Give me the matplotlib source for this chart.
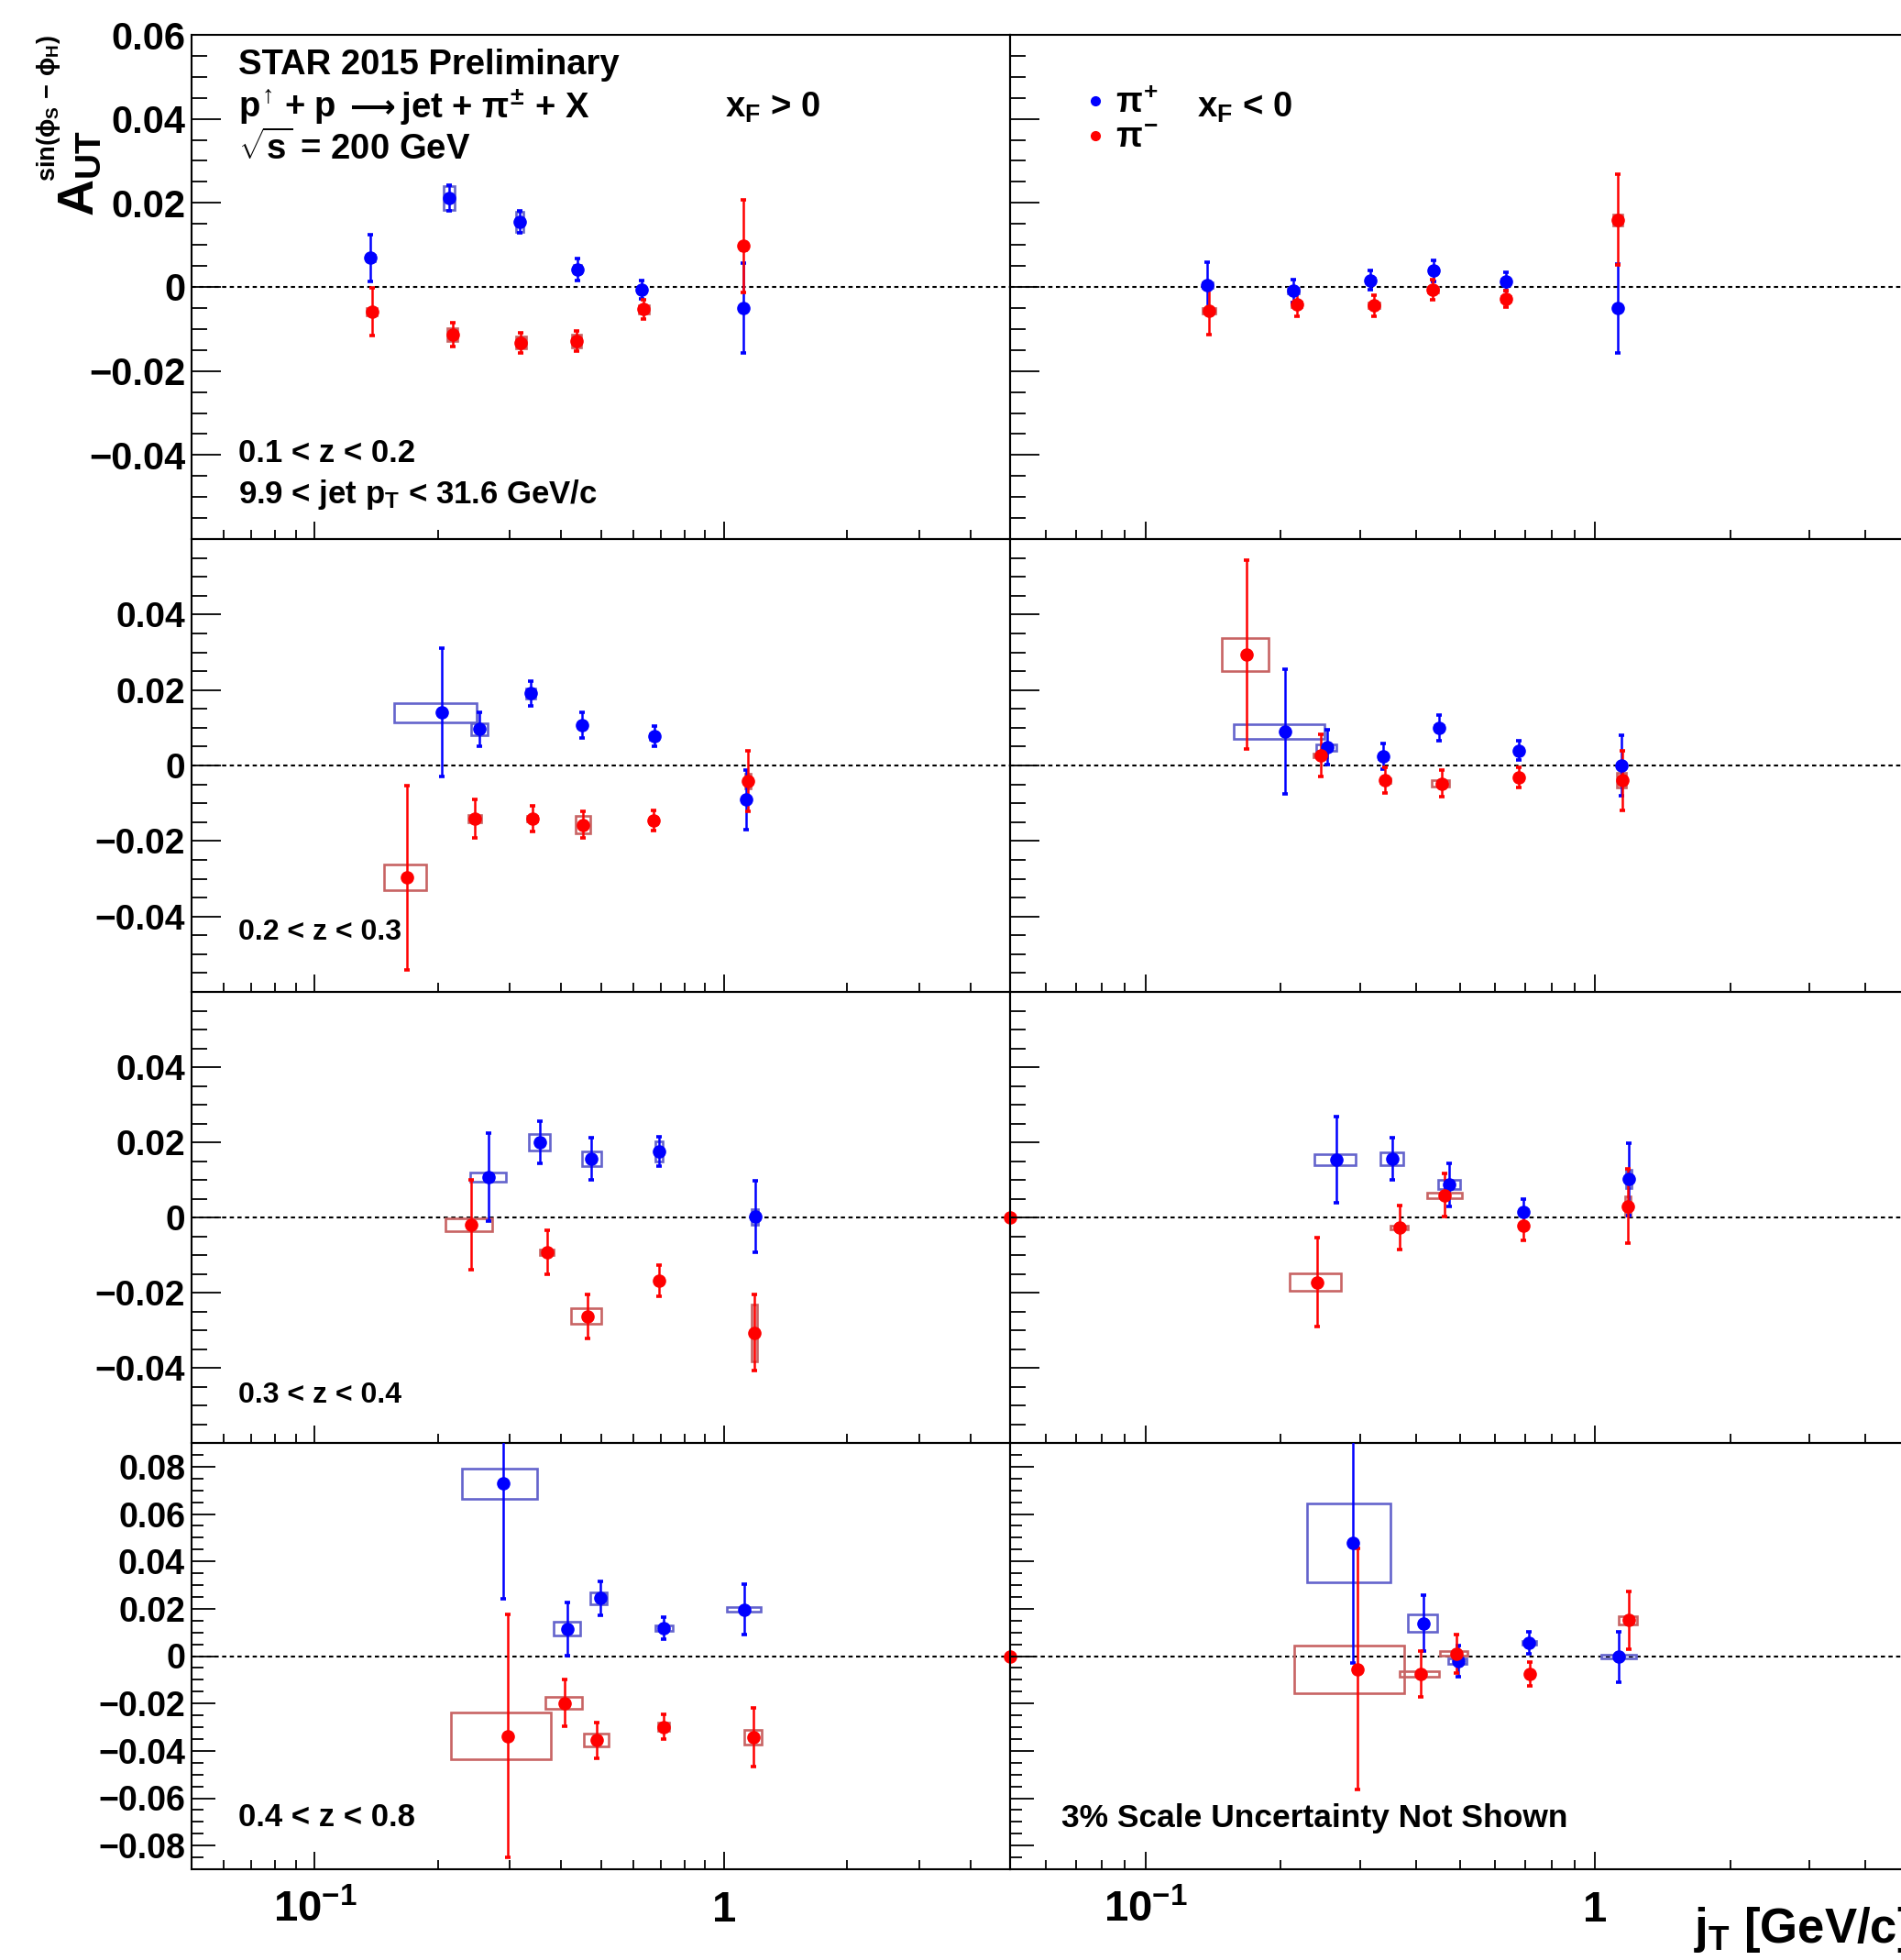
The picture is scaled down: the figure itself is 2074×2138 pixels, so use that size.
import matplotlib
matplotlib.use('Agg')
import matplotlib.pyplot as plt
from matplotlib.patches import Rectangle
from matplotlib.lines import Line2D
from matplotlib.ticker import FixedLocator, MultipleLocator, LogLocator, NullFormatter, FuncFormatter

plt.rcParams['font.family'] = ['Liberation Sans', 'DejaVu Sans']
plt.rcParams['font.weight'] = 'bold'
plt.rcParams['mathtext.fontset'] = 'custom'
for k in ('rm', 'it', 'bf', 'sf'):
    plt.rcParams['mathtext.' + k] = 'Liberation Sans:bold'

# panels are ordered row by row: (z bin, xF>0), (z bin, xF<0)
z_bins = ['0.1 < z < 0.2', '0.2 < z < 0.3', '0.3 < z < 0.4', '0.4 < z < 0.8']
y_ranges = [(-0.06, 0.06), (-0.06, 0.06), (-0.06, 0.06), (-0.09, 0.09)]
y_labels = [[-0.04, -0.02, 0, 0.02, 0.04, 0.06],
            [-0.04, -0.02, 0, 0.02, 0.04],
            [-0.04, -0.02, 0, 0.02, 0.04],
            [-0.08, -0.06, -0.04, -0.02, 0, 0.02, 0.04, 0.06, 0.08]]

# pi+ : jT, asymmetry, stat. error, sys. box (jT low, jT high, half height)
pip_jt = [[0.137, 0.213, 0.317, 0.439, 0.63, 1.114],
          [0.1375, 0.213, 0.317, 0.437, 0.634, 1.124],
          [0.204, 0.253, 0.337, 0.45, 0.677, 1.135],
          [0.204, 0.254, 0.338, 0.45, 0.676, 1.144],
          [0.266, 0.3556, 0.473, 0.694, 1.19],
          [0.2656, 0.354, 0.473, 0.694, 1.188],
          [0.2893, 0.414, 0.498, 0.712, 1.122],
          [0.2897, 0.416, 0.4958, 0.713, 1.131]]
pip_a = [[0.0069, 0.0212, 0.0155, 0.0042, -0.0007, -0.0051],
         [0.0004, -0.0009, 0.0016, 0.0039, 0.0013, -0.0051],
         [0.014, 0.0096, 0.0191, 0.0107, 0.0077, -0.0091],
         [0.009, 0.0048, 0.0024, 0.01, 0.004, 0.0],
         [0.0107, 0.02, 0.0156, 0.0176, 0.0002],
         [0.0154, 0.0156, 0.0087, 0.0015, 0.0102],
         [0.0728, 0.0115, 0.0244, 0.0118, 0.0197],
         [0.0479, 0.0139, -0.0022, 0.0057, -0.0003]]
pip_err = [[0.0055, 0.003, 0.0026, 0.0026, 0.0022, 0.0107],
           [0.0056, 0.0027, 0.0023, 0.0025, 0.0022, 0.0106],
           [0.017, 0.0044, 0.0033, 0.0034, 0.0027, 0.0078],
           [0.0166, 0.0046, 0.0034, 0.0034, 0.0026, 0.0079],
           [0.0117, 0.0056, 0.0057, 0.0039, 0.0095],
           [0.0115, 0.0055, 0.0057, 0.0034, 0.0096],
           [0.0487, 0.0113, 0.007, 0.0047, 0.0106],
           [0.0507, 0.0119, 0.0067, 0.0046, 0.0106]]
pip_sys_lo = [[0.134, 0.2065, 0.31, 0.43, 0.62, 1.10],
              [0.134, 0.207, 0.31, 0.43, 0.62, 1.11],
              [0.1566, 0.2415, 0.328, 0.44, 0.66, 1.12],
              [0.157, 0.24, 0.33, 0.44, 0.665, 1.13],
              [0.24, 0.3344, 0.45, 0.68, 1.17],
              [0.238, 0.3335, 0.447, 0.68, 1.17],
              [0.2288, 0.3824, 0.4717, 0.68, 1.018],
              [0.2293, 0.3836, 0.4726, 0.69, 1.033]]
pip_sys_hi = [[0.140, 0.2195, 0.324, 0.448, 0.64, 1.13],
              [0.141, 0.219, 0.324, 0.445, 0.645, 1.14],
              [0.249, 0.264, 0.346, 0.46, 0.69, 1.15],
              [0.25, 0.2655, 0.346, 0.46, 0.69, 1.16],
              [0.2925, 0.3755, 0.5, 0.71, 1.21],
              [0.294, 0.3746, 0.502, 0.71, 1.205],
              [0.349, 0.445, 0.518, 0.75, 1.229],
              [0.3513, 0.4462, 0.5186, 0.74, 1.234]]
pip_sys_h = [[0.0008, 0.0028, 0.0024, 0.001, 0.0008, 0.0008],
             [0.0006, 0.0006, 0.0006, 0.0006, 0.0006, 0.0006],
             [0.0026, 0.0016, 0.0013, 0.0008, 0.0008, 0.0008],
             [0.002, 0.0008, 0.0006, 0.0006, 0.0006, 0.0006],
             [0.0012, 0.0022, 0.002, 0.0026, 0.0021],
             [0.0014, 0.0016, 0.0012, 0.0006, 0.0024],
             [0.0065, 0.0029, 0.0025, 0.0012, 0.0009],
             [0.0167, 0.0037, 0.0011, 0.0008, 0.0008]]

# pi- : jT, asymmetry, stat. error, sys. box (jT low, jT high, half height)
pim_jt = [[0.138, 0.217, 0.319, 0.436, 0.637, 1.114],
          [0.1385, 0.217, 0.322, 0.436, 0.634, 1.124],
          [0.1676, 0.246, 0.34, 0.452, 0.673, 1.142],
          [0.168, 0.245, 0.341, 0.456, 0.676, 1.15],
          [0.2416, 0.369, 0.463, 0.694, 1.185],
          [0.2404, 0.367, 0.4637, 0.694, 1.181],
          [0.2969, 0.408, 0.489, 0.712, 1.181],
          [0.2957, 0.41, 0.4915, 0.716, 1.188]]
pim_a = [[-0.0059, -0.0113, -0.0132, -0.0128, -0.0053, 0.0098],
         [-0.0057, -0.0041, -0.0044, -0.0007, -0.0028, 0.016],
         [-0.0297, -0.0141, -0.0141, -0.0157, -0.0146, -0.0041],
         [0.0294, 0.0027, -0.0039, -0.0048, -0.0031, -0.0039],
         [-0.0019, -0.0093, -0.0263, -0.0168, -0.0307],
         [-0.0172, -0.0027, 0.0059, -0.0021, 0.003],
         [-0.0337, -0.0198, -0.0356, -0.0299, -0.0342],
         [-0.0055, -0.0075, 0.0011, -0.0075, 0.0151]]
pim_err = [[0.0056, 0.0029, 0.0024, 0.0024, 0.0023, 0.011],
           [0.0056, 0.0029, 0.0025, 0.0024, 0.002, 0.0108],
           [0.0244, 0.0052, 0.0034, 0.0035, 0.0026, 0.008],
           [0.025, 0.0055, 0.0034, 0.0035, 0.0027, 0.0079],
           [0.012, 0.0059, 0.0058, 0.0041, 0.0101],
           [0.0119, 0.0058, 0.0057, 0.004, 0.0099],
           [0.0513, 0.0099, 0.0075, 0.0053, 0.0124],
           [0.051, 0.0098, 0.0081, 0.0049, 0.0123]]
pim_sys_lo = [[0.134, 0.211, 0.31, 0.425, 0.62, 1.10],
              [0.134, 0.211, 0.313, 0.425, 0.62, 1.10],
              [0.148, 0.237, 0.33, 0.435, 0.66, 1.125],
              [0.148, 0.236, 0.333, 0.434, 0.665, 1.12],
              [0.209, 0.355, 0.423, 0.68, 1.165],
              [0.209, 0.35, 0.4236, 0.68, 1.165],
              [0.2155, 0.366, 0.455, 0.69, 1.122],
              [0.2138, 0.367, 0.453, 0.70, 1.131]]
pim_sys_hi = [[0.142, 0.223, 0.328, 0.448, 0.655, 1.13],
              [0.143, 0.223, 0.331, 0.448, 0.65, 1.15],
              [0.187, 0.255, 0.35, 0.47, 0.685, 1.16],
              [0.1876, 0.254, 0.35, 0.473, 0.69, 1.17],
              [0.272, 0.384, 0.5, 0.71, 1.205],
              [0.2724, 0.384, 0.505, 0.71, 1.20],
              [0.3768, 0.45, 0.5217, 0.735, 1.233],
              [0.3768, 0.45, 0.521, 0.73, 1.238]]
pim_sys_h = [[0.0008, 0.0015, 0.0015, 0.0015, 0.001, 0.001],
             [0.0006, 0.0006, 0.0006, 0.0006, 0.0006, 0.0013],
             [0.0034, 0.001, 0.0008, 0.0023, 0.001, 0.002],
             [0.0044, 0.0005, 0.0006, 0.0008, 0.0006, 0.0019],
             [0.0017, 0.0008, 0.0021, 0.0008, 0.0075],
             [0.0024, 0.0005, 0.0007, 0.0005, 0.0025],
             [0.0099, 0.0026, 0.0027, 0.0018, 0.003],
             [0.01, 0.0013, 0.0009, 0.0005, 0.0017]]

# lone pi- point sitting at the upper jT edge of the xF>0 pads
edge_jt, edge_a = 5.0, 0.0
edge_rows = [2, 3]

W, H = 2074, 2138
fig = plt.figure(figsize=(W / 100, H / 100), dpi=100)

col_px = [(209, 1102), (1102, 2083)]
row_px = [(38, 588), (588, 1082), (1082, 1574), (1574, 2039)]
tick_px = [(32, 17), (32, 17), (32, 17), (26, 13)]
ylab_size = [30, 28, 28, 27]


def px(x, y):
    return x / W, 1 - y / H


def fmt_y(v, pos):
    if abs(v) < 1e-9:
        return '0'
    return ('%.2f' % v).replace('-', '\u2212')


def draw_set(ax, jt, a, err, lo, hi, hh, color, boxcolor):
    for x0, x1, y, h in zip(lo, hi, a, hh):
        ax.add_patch(Rectangle((x0, y - h), x1 - x0, 2 * h, fill=False,
                               ec=boxcolor, lw=1.9, zorder=2))
    ax.errorbar(jt, a, yerr=err, fmt='o', color=color, ms=9.5,
                elinewidth=1.8, capsize=2.2, capthick=2.6, zorder=3)


axes = []
for r in range(4):
    for c in range(2):
        k = 2 * r + c
        x0, x1 = col_px[c]
        y0, y1 = row_px[r]
        ax = fig.add_axes([x0 / W, 1 - y1 / H, (x1 - x0) / W, (y1 - y0) / H])
        ax.patch.set_visible(False)
        axes.append(ax)
        ax.set_xscale('log')
        ax.set_xlim(0.05, 5)
        ax.set_ylim(*y_ranges[r])

        ax.axhline(0, color='black', ls=(0, (2.2, 1.8)), lw=1.5, zorder=1)
        draw_set(ax, pip_jt[k], pip_a[k], pip_err[k], pip_sys_lo[k],
                 pip_sys_hi[k], pip_sys_h[k], '#0000ff', '#6464cc')
        draw_set(ax, pim_jt[k], pim_a[k], pim_err[k], pim_sys_lo[k],
                 pim_sys_hi[k], pim_sys_h[k], '#ff0000', '#c86464')
        if c == 0 and r in edge_rows:
            ax.plot([edge_jt], [edge_a], 'o', color='#ff0000', ms=9.5,
                    clip_on=False, zorder=6)

        for s in ax.spines.values():
            s.set_linewidth(1.5)

        # x axis: ticks only along the bottom, pointing in
        ax.xaxis.set_major_locator(FixedLocator([0.1, 1]))
        ax.xaxis.set_minor_locator(LogLocator(base=10, subs=range(2, 10), numticks=20))
        ax.xaxis.set_minor_formatter(NullFormatter())
        ax.tick_params(axis='x', which='major', direction='in', length=14,
                       width=1.3, top=False)
        ax.tick_params(axis='x', which='minor', direction='in', length=7,
                       width=1.3, top=False)
        if r == 3:
            ax.set_xticklabels([r'$10^{-1}$', '1'])
            ax.tick_params(axis='x', which='major', labelsize=34, pad=41)
            for t in ax.get_xticklabels():
                t.set_verticalalignment('baseline')
        else:
            ax.set_xticklabels([])

        # y axis: ticks only along the left edge
        ax.yaxis.set_major_locator(FixedLocator(y_labels[r]))
        ax.yaxis.set_minor_locator(MultipleLocator(0.005))
        ax.tick_params(axis='y', which='major', direction='in',
                       length=tick_px[r][0] * 0.72, width=1.3, right=False)
        ax.tick_params(axis='y', which='minor', direction='in',
                       length=tick_px[r][1] * 0.72, width=1.3, right=False)
        if c == 0:
            ax.yaxis.set_major_formatter(FuncFormatter(fmt_y))
            ax.tick_params(axis='y', labelsize=ylab_size[r], pad=5)
        else:
            ax.set_yticklabels([])

# legend in the xF<0 top pad
handles = [Line2D([], [], ls='none', marker='o', color='#0000ff', ms=7),
           Line2D([], [], ls='none', marker='o', color='#ff0000', ms=7)]
axes[1].legend(handles, [r'$\pi^{+}$', r'$\pi^{-}$'], loc='upper left',
               bbox_to_anchor=(0.083, 0.896), frameon=False, fontsize=27,
               handlelength=0.6, handletextpad=0.3, labelspacing=0.05,
               borderpad=0.0, borderaxespad=0.0)

txt = dict(fontsize=27.5, fontweight='bold', va='center', ha='left')
fig.text(*px(260, 71), 'STAR 2015 Preliminary', **txt)
fig.text(*px(260, 117), r'$p^{\!\uparrow}\!$ + p', **txt)
fig.text(*px(374, 117), r'$\longrightarrow$', math_fontfamily='dejavusans',
         fontsize=25, va='center', ha='left')
fig.text(*px(437, 117), r'jet + $\pi^{\pm}$ + X', **txt)
fig.text(*px(260, 162), r'$\sqrt{s}$ = 200 GeV', **txt)
fig.text(*px(791, 117), r'$x_F$ > 0', **txt)
fig.text(*px(1306, 117), r'$x_F$ < 0', **txt)

zsize = [25, 23, 23, 25]
zpos = [494, 1017, 1522, 1983]
for r in range(4):
    fig.text(*px(260, zpos[r]), z_bins[r], fontsize=zsize[r], fontweight='bold',
             va='center', ha='left')
fig.text(*px(260, 540), r'9.9 < jet p$_T$ < 31.6 GeV/c', fontsize=25,
         fontweight='bold', va='center', ha='left')
fig.text(*px(1158, 1983), '3% Scale Uncertainty Not Shown', fontsize=25.5,
         fontweight='bold', va='center', ha='left')

# y title: big A_UT with its sin(phi_S - phi_H) superscript stacked above
fig.text(*px(88, 236), r'$A_{UT}$', fontsize=40, rotation=90,
         ha='center', va='bottom')
fig.text(*px(53, 38), r'$sin(\phi_S\,-\,\phi_H)$', fontsize=19.5, rotation=90,
         ha='center', va='top')
fig.text(*px(1848, 2119), r'$j_T$ [GeV/c]', fontsize=38, ha='left',
         va='baseline')

fig.savefig('out.png', dpi=100)
